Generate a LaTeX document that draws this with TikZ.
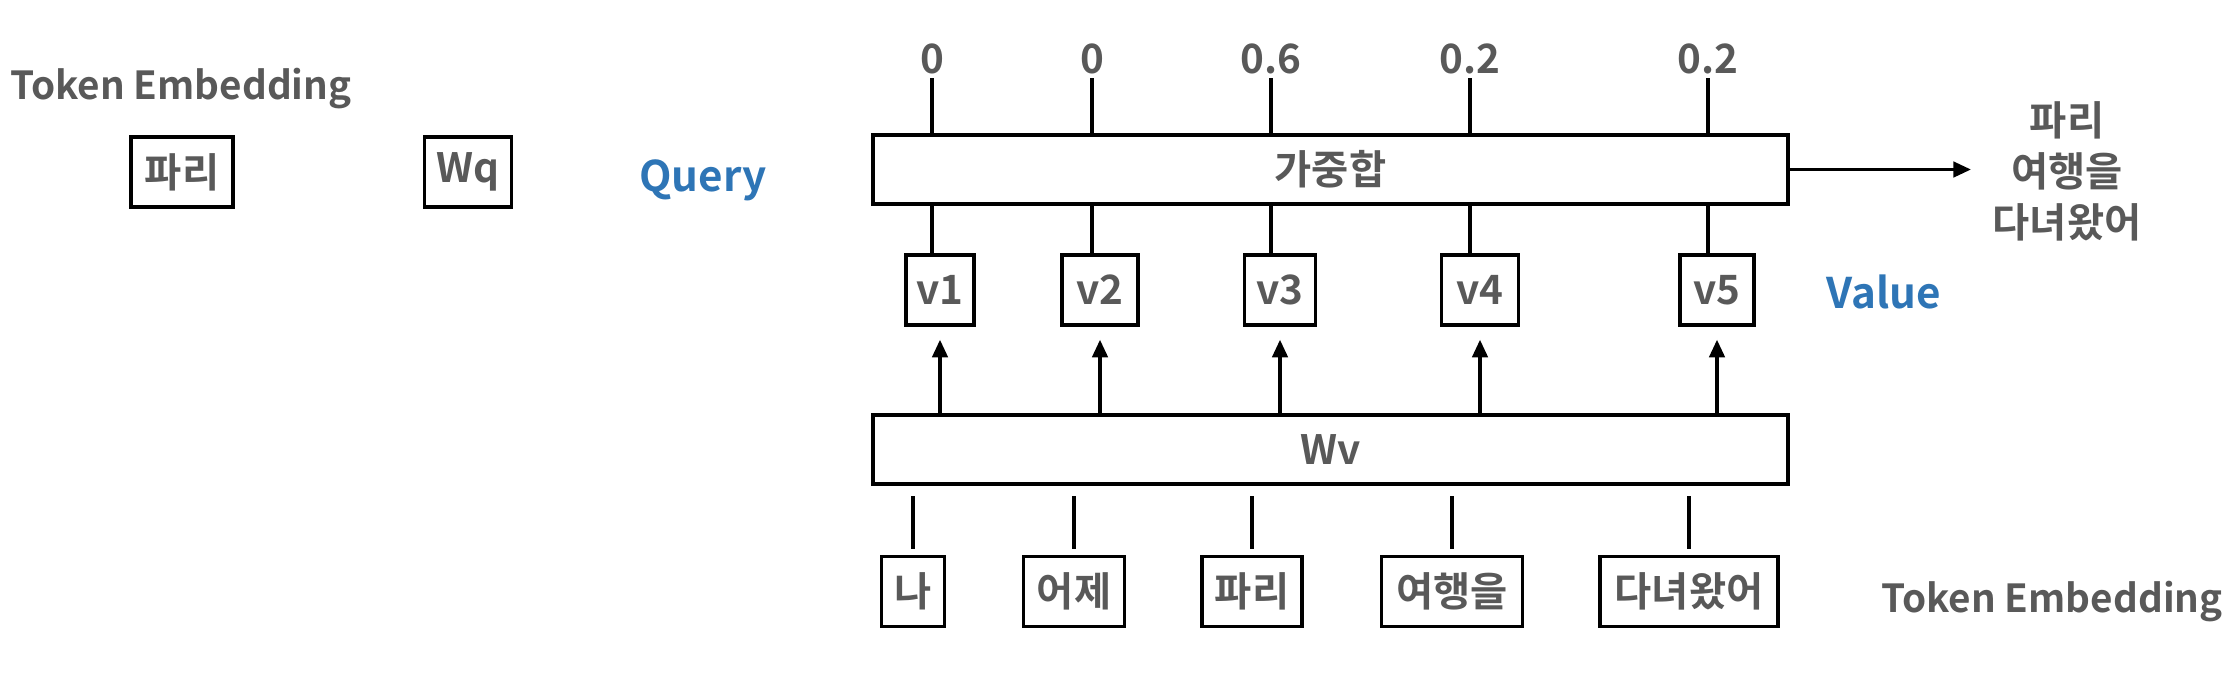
\documentclass[tikz,border=0pt]{standalone}
\usepackage{fontspec}
\usepackage{xcolor}
\usepackage{tikz}
\usetikzlibrary{arrows.meta,calc}
\newfontfamily\krbold{Noto Sans CJK KR Bold}
\definecolor{txtgray}{HTML}{595959}
\definecolor{qblue}{HTML}{2E75B6}

\begin{document}
\begin{tikzpicture}[
  lbl/.style={font=\krbold\fontsize{11}{12.8}\selectfont, text=txtgray, inner sep=0},
  blbl/.style={font=\krbold\fontsize{11.5}{13}\selectfont, text=txtgray, inner sep=0},
  qlbl/.style={font=\krbold\fontsize{12}{14}\selectfont, text=qblue, inner sep=0},
  box/.style={rectangle, draw, line width=1pt, blbl, minimum height=0.7cm, inner xsep=0.1cm},
  wbox/.style={box, minimum width=9.15cm, minimum height=0.69cm},
  wire/.style={line width=0.9pt},
  arrow/.style={-{Triangle[length=5pt,width=4.4pt]}, line width=0.9pt}
]
  \useasboundingbox (0,0) rectangle (22.34,-6.72);

  % Query side
  \node[lbl, anchor=base] (qlabel) at (1.81,-0.99) {Token Embedding};
  \node[box, minimum width=1.02cm] (qtok) at (1.82,-1.72) {파리};
  \node[box, minimum width=0.87cm] (wq) at (4.68,-1.72) {Wq};
  \node[qlbl, anchor=base] (query) at (7.03,-1.91) {Query};

  % Attention weights
  \node[blbl, anchor=base, inner sep=0.04cm] (a1) at (9.32,-0.73) {0};
  \node[blbl, anchor=base, inner sep=0.04cm] (a2) at (10.92,-0.73) {0};
  \node[blbl, anchor=base, inner sep=0.04cm] (a3) at (12.71,-0.73) {0.6};
  \node[blbl, anchor=base, inner sep=0.04cm] (a4) at (14.70,-0.73) {0.2};
  \node[blbl, anchor=base, inner sep=0.04cm] (a5) at (17.08,-0.73) {0.2};

  % Weighted sum
  \node[wbox] (sum) at (13.305,-1.695) {가중합};
  \node[blbl, align=center, inner xsep=0.21cm, font=\krbold\fontsize{11.5}{14.5}\selectfont] (out) at (20.67,-1.715) {파리\\여행을\\다녀왔어};

  % Values
  \node[box, minimum width=0.68cm] (v1) at (9.40,-2.90) {v1};
  \node[box, minimum width=0.76cm] (v2) at (11.00,-2.90) {v2};
  \node[box, minimum width=0.71cm] (v3) at (12.80,-2.90) {v3};
  \node[box, minimum width=0.77cm] (v4) at (14.80,-2.90) {v4};
  \node[box, minimum width=0.74cm] (v5) at (17.17,-2.90) {v5};
  \node[qlbl, anchor=base] (value) at (18.84,-3.08) {Value};

  % Value projection
  \node[wbox] (wv) at (13.305,-4.495) {Wv};

  % Tokens
  \node[box, minimum width=0.63cm] (t1) at (9.13,-5.915) {나};
  \node[box, minimum width=1.01cm] (t2) at (10.74,-5.915) {어제};
  \node[box, minimum width=1.00cm] (t3) at (12.52,-5.915) {파리};
  \node[box, minimum width=1.41cm] (t4) at (14.52,-5.915) {여행을};
  \node[box, minimum width=1.78cm] (t5) at (16.89,-5.915) {다녀왔어};
  \node[lbl, anchor=base] (klabel) at (20.52,-6.12) {Token Embedding};

  \draw[wire] (a1) -- (a1 |- sum.north);
  \draw[wire] (a2) -- (a2 |- sum.north);
  \draw[wire] (a3) -- (a3 |- sum.north);
  \draw[wire] (a4) -- (a4 |- sum.north);
  \draw[wire] (a5) -- (a5 |- sum.north);
  \draw[arrow] (sum.east) -- (sum.east -| out.west);

  \draw[wire] (a1 |- sum.south) -- (a1 |- v1.north);
  \draw[wire] (a2 |- sum.south) -- (a2 |- v2.north);
  \draw[wire] (a3 |- sum.south) -- (a3 |- v3.north);
  \draw[wire] (a4 |- sum.south) -- (a4 |- v4.north);
  \draw[wire] (a5 |- sum.south) -- (a5 |- v5.north);

  \draw[arrow, shorten >=0.13cm] (v1 |- wv.north) -- (v1);
  \draw[arrow, shorten >=0.13cm] (v2 |- wv.north) -- (v2);
  \draw[arrow, shorten >=0.13cm] (v3 |- wv.north) -- (v3);
  \draw[arrow, shorten >=0.13cm] (v4 |- wv.north) -- (v4);
  \draw[arrow, shorten >=0.13cm] (v5 |- wv.north) -- (v5);

  \draw[wire, shorten <=0.06cm, shorten >=0.1cm] (t1) -- (t1 |- wv.south);
  \draw[wire, shorten <=0.06cm, shorten >=0.1cm] (t2) -- (t2 |- wv.south);
  \draw[wire, shorten <=0.06cm, shorten >=0.1cm] (t3) -- (t3 |- wv.south);
  \draw[wire, shorten <=0.06cm, shorten >=0.1cm] (t4) -- (t4 |- wv.south);
  \draw[wire, shorten <=0.06cm, shorten >=0.1cm] (t5) -- (t5 |- wv.south);
\end{tikzpicture}
\end{document}
